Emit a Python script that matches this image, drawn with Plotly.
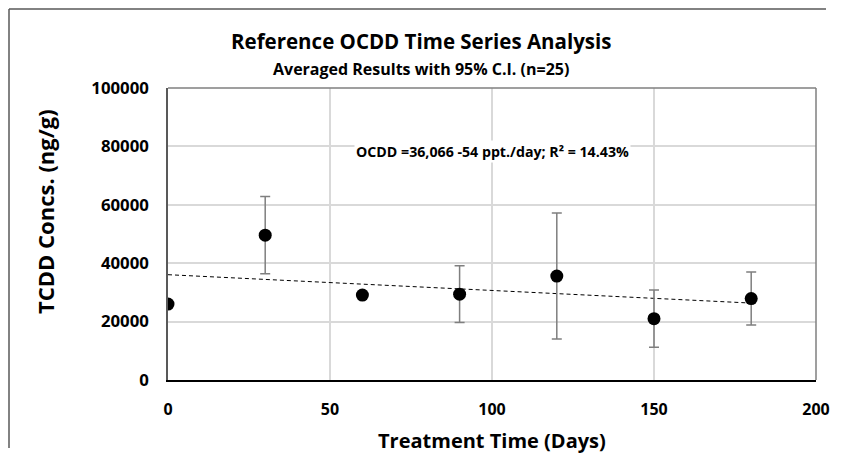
import plotly.graph_objects as go

days = [0, 30, 60, 90, 120, 150, 180]
conc = [26000, 49600, 29100, 29400, 35600, 21000, 27900]
ci = [0, 13200, 0, 9700, 21600, 9800, 9100]
intercept = 36066
slope = -54
trend_x = [0, 180]
trend_y = [intercept + slope * x for x in trend_x]
x_ticks = [0, 50, 100, 150, 200]
y_ticks = [0, 20000, 40000, 60000, 80000, 100000]

FONT = "Open Sans, sans-serif"

W, H = 825, 448
L, R, T, B = 160, 17, 80, 76
PW, PH = W - L - R, H - T - B


def px(page_x):
    return (page_x - 8 - L) / PW


def py(page_y):
    return 1 - (page_y - 8 - T) / PH


fig = go.Figure()
fig.add_trace(go.Scatter(
    x=trend_x, y=trend_y, mode="lines",
    line=dict(color="black", width=1, dash="4px,3px"),
    hoverinfo="skip", showlegend=False))
fig.add_trace(go.Scatter(
    x=days, y=conc, mode="markers",
    marker=dict(color="black", size=13),
    error_y=dict(type="data", array=ci, visible=True, color="#7f7f7f",
                 thickness=1.5, width=5),
    showlegend=False))

fig.update_layout(
    width=W, height=H,
    margin=dict(l=L, r=R, t=T, b=B),
    paper_bgcolor="white", plot_bgcolor="white",
    font=dict(family=FONT, color="black"),
    xaxis=dict(
        range=[0, 200], tickvals=x_ticks, ticktext=[f"<b>{v}</b>" for v in x_ticks],
        showgrid=True, gridcolor="#d9d9d9", gridwidth=1.5,
        showline=True, linecolor="black", linewidth=1.5, mirror=False,
        zeroline=False, ticks="", ticklabelstandoff=14, automargin=False,
        tickfont=dict(size=16, family=FONT)),
    yaxis=dict(
        range=[0, 100000], tickvals=y_ticks, ticktext=[f"<b>{v}</b>" for v in y_ticks],
        showgrid=True, gridcolor="#d9d9d9", gridwidth=1.5,
        showline=True, linecolor="#595959", linewidth=1.5,
        zeroline=False, ticks="", ticklabelstandoff=14, automargin=False,
        tickfont=dict(size=16.8, family=FONT)),
    annotations=[
        dict(x=px(421), y=py(41), xref="paper", yref="paper",
             xanchor="center", yanchor="middle",
             text="<b>Reference OCDD Time Series Analysis</b>",
             showarrow=False, font=dict(size=20.5, family=FONT)),
        dict(x=px(421), y=py(69), xref="paper", yref="paper",
             xanchor="center", yanchor="middle",
             text="<b>Averaged Results with 95% C.I. (n=25)</b>",
             showarrow=False, font=dict(size=16, family=FONT)),
        dict(x=px(45), y=py(212), xref="paper", yref="paper",
             xanchor="center", yanchor="middle", textangle=-90,
             text="<b>TCDD Concs. (ng/g)</b>",
             showarrow=False, font=dict(size=22, family=FONT)),
        dict(x=px(492), y=py(440), xref="paper", yref="paper",
             xanchor="center", yanchor="middle",
             text="<b>Treatment Time (Days)</b>",
             showarrow=False, font=dict(size=20, family=FONT)),
        dict(x=100, y=78400, xref="x", yref="y",
             xanchor="center", yanchor="middle",
             text="<b>OCDD =36,066 -54 ppt./day; R² = 14.43%</b>",
             showarrow=False, font=dict(size=14.2, family=FONT),
             bgcolor="white"),
    ],
    shapes=[
        dict(type="line", xref="paper", yref="paper", x0=1, x1=1, y0=0, y1=1,
             line=dict(color="#7f7f7f", width=1.5)),
        dict(type="line", xref="paper", yref="paper", x0=0, x1=1, y0=1, y1=1,
             line=dict(color="#7f7f7f", width=1.5)),
        dict(type="line", xref="paper", yref="paper",
             x0=px(9), x1=px(9), y0=py(H), y1=py(9),
             line=dict(color="#595959", width=1.5)),
        dict(type="line", xref="paper", yref="paper",
             x0=px(9), x1=px(826), y0=py(9), y1=py(9),
             line=dict(color="#595959", width=1.5)),
    ],
)

fig.write_html("out.html")
